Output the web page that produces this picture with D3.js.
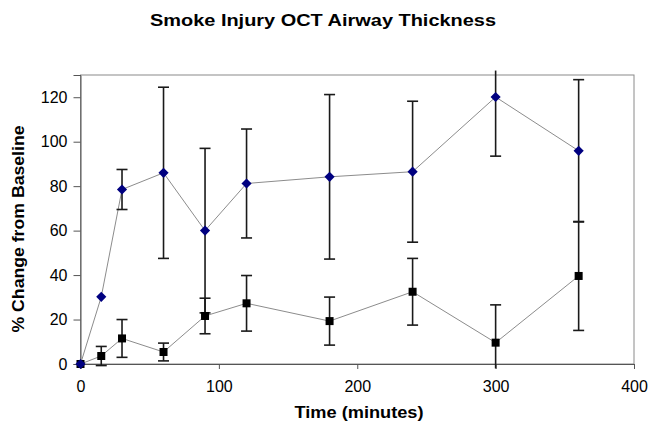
<!DOCTYPE html>
<html>
<head>
<meta charset="utf-8">
<script src="https://cdn.jsdelivr.net/npm/d3@7"></script>
<style>
  body { margin: 0; background: #fff; }
  text { font-family: "Liberation Sans", Arial, sans-serif; }
</style>
</head>
<body>
<div id="chart"></div>
<script>
// time points (minutes)
var times = [0, 15, 30, 60, 90, 120, 180, 240, 300, 360];
// smoke injury series (diamonds)
var smokeVals = [0, 30.2, 78.5, 86, 60, 81.2, 84.2, 86.5, 120.1, 95.9];
var smokeErr  = [0, 0, 9, 38.5, 37, 24.5, 37, 31.7, 26.6, 32];
// control series (squares)
var ctrlVals = [0, 3.6, 11.5, 5.4, 21.6, 27.3, 19.3, 32.5, 9.6, 39.6];
var ctrlErr  = [0, 4.3, 8.5, 4, 8, 12.5, 10.8, 15, 17, 24.5];
var xTicks = [0, 100, 200, 300, 400];
var yTicks = [0, 20, 40, 60, 80, 100, 120];

var W = 649, H = 431;
var svg = d3.select("#chart").append("svg")
    .attr("width", W)
    .attr("height", H);

var x = d3.scaleLinear().domain([0, 400]).range([80.5, 634]);
var y = d3.scaleLinear().domain([0, 130]).range([364, 75]);

// plot frame
svg.append("rect")
    .attr("x", x(0)).attr("y", y(130))
    .attr("width", x(400) - x(0)).attr("height", y(0) - y(130))
    .attr("fill", "none").attr("stroke", "#8a8a8a").attr("stroke-width", 1);

// axes
var xAxis = svg.append("g")
    .attr("transform", "translate(0," + y(0) + ")")
    .call(d3.axisBottom(x).tickValues(xTicks).tickSize(5).tickPadding(12));
var yAxis = svg.append("g")
    .attr("transform", "translate(" + x(0) + ",0)")
    .call(d3.axisLeft(y).tickValues(yTicks).tickSize(7).tickPadding(6));

[xAxis, yAxis].forEach(function(g){
  g.select(".domain").attr("stroke", "#555");
  g.selectAll(".tick line").attr("stroke", "#555");
  g.selectAll(".tick text")
    .attr("fill", "#000")
    .style("font-size", "16px")
    .style("font-family", "'Liberation Sans', Arial, sans-serif");
});

function series(vals, errs) {
  return times.map(function(t, i){ return {t: t, v: vals[i], e: errs[i]}; });
}
var smoke = series(smokeVals, smokeErr);
var ctrl = series(ctrlVals, ctrlErr);

var line = d3.line()
    .x(function(d){ return x(d.t); })
    .y(function(d){ return y(d.v); });

[ctrl, smoke].forEach(function(s){
  svg.append("path")
      .datum(s)
      .attr("d", line)
      .attr("fill", "none")
      .attr("stroke", "#8c8c8c")
      .attr("stroke-width", 1);
});

// error bars, lines run a little past the frame when clipped
function errorBars(s) {
  var g = svg.append("g").attr("stroke", "#1a1a1a").attr("stroke-width", 1.6);
  var data = s.filter(function(d){ return d.e > 0; });
  var capW = 5.5;
  data.forEach(function(d){
    var hi = d.v + d.e, lo = d.v - d.e;
    var hiC = Math.min(hi, 132), loC = Math.max(lo, -2);
    g.append("line")
        .attr("x1", x(d.t)).attr("x2", x(d.t))
        .attr("y1", y(hiC)).attr("y2", y(loC));
    if (hi === hiC) {
      g.append("line")
          .attr("x1", x(d.t) - capW).attr("x2", x(d.t) + capW)
          .attr("y1", y(hi)).attr("y2", y(hi));
    }
    if (lo === loC) {
      g.append("line")
          .attr("x1", x(d.t) - capW).attr("x2", x(d.t) + capW)
          .attr("y1", y(lo)).attr("y2", y(lo));
    }
  });
}
errorBars(ctrl);
errorBars(smoke);

// markers
svg.append("g").selectAll("rect")
    .data(ctrl)
    .enter()
    .append("rect")
    .attr("x", function(d){ return x(d.t) - 4; })
    .attr("y", function(d){ return y(d.v) - 4; })
    .attr("width", 8).attr("height", 8)
    .attr("fill", "#000");

svg.append("g").selectAll("path")
    .data(smoke)
    .enter()
    .append("path")
    .attr("d", d3.symbol().type(d3.symbolDiamond2).size(66))
    .attr("transform", function(d){ return "translate(" + x(d.t) + "," + y(d.v) + ")"; })
    .attr("fill", "#000080");

// titles (text in the original is a bit wider than Arial, so stretch it)
svg.append("text")
    .attr("x", 323).attr("y", 26)
    .attr("text-anchor", "middle")
    .attr("textLength", 346).attr("lengthAdjust", "spacingAndGlyphs")
    .style("font-size", "17px").style("font-weight", "bold")
    .text("Smoke Injury OCT Airway Thickness");

svg.append("text")
    .attr("x", 359).attr("y", 418)
    .attr("text-anchor", "middle")
    .attr("textLength", 129).attr("lengthAdjust", "spacingAndGlyphs")
    .style("font-size", "16px").style("font-weight", "bold")
    .text("Time (minutes)");

svg.append("text")
    .attr("transform", "translate(24,229) rotate(-90)")
    .attr("text-anchor", "middle")
    .attr("textLength", 207).attr("lengthAdjust", "spacingAndGlyphs")
    .style("font-size", "16px").style("font-weight", "bold")
    .text("% Change from Baseline");
</script>
</body>
</html>
